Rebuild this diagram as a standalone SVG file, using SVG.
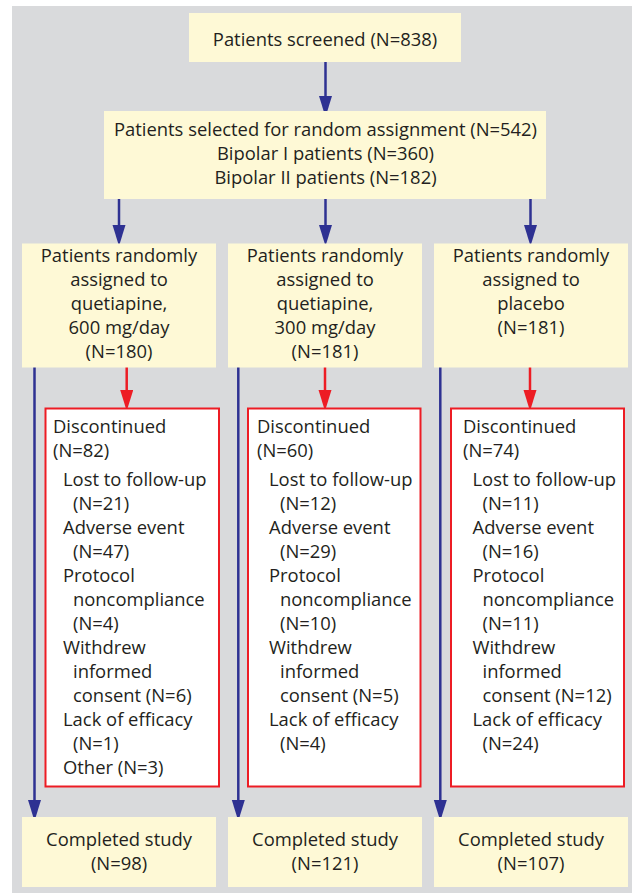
<svg xmlns="http://www.w3.org/2000/svg" width="632" height="894" viewBox="0 0 632 894">
  <style>
    text { font-family: "Open Sans", "Liberation Sans", sans-serif; font-size: 18.4px; fill: #231f20; }
    .c { text-anchor: middle; }
    .box { fill: #fef9d6; }
    .drop { fill: #ffffff; stroke: #ed1c24; stroke-width: 2; }
    .blue { stroke: #2e3192; stroke-width: 2.5; fill: none; marker-end: url(#headBlue); }
    .red { stroke: #ed1c24; stroke-width: 2.5; fill: none; marker-end: url(#headRed); }
  </style>
  <defs>
    <marker id="headBlue" markerUnits="userSpaceOnUse" markerWidth="22" markerHeight="14" refX="1" refY="6.5" orient="auto">
      <path d="M0,0 L21,6.5 L0,13 Z" fill="#2e3192"/>
    </marker>
    <marker id="headRed" markerUnits="userSpaceOnUse" markerWidth="22" markerHeight="14" refX="1" refY="6.5" orient="auto">
      <path d="M0,0 L21,6.5 L0,13 Z" fill="#ed1c24"/>
    </marker>
  </defs>

  <!-- panel background -->
  <rect x="12" y="6" width="620" height="887" fill="#d9dadc"/>

  <!-- connectors -->
  <g id="connectors">
    <line class="blue" x1="325.5" y1="62" x2="325.5" y2="97"/>
    <line class="blue" x1="119" y1="199" x2="119" y2="226"/>
    <line class="blue" x1="325.5" y1="199" x2="325.5" y2="226"/>
    <line class="blue" x1="530.5" y1="199" x2="530.5" y2="226"/>
    <line class="red" x1="126.7" y1="367" x2="126.7" y2="391"/>
    <line class="red" x1="325" y1="367" x2="325" y2="391"/>
    <line class="red" x1="530" y1="367" x2="530" y2="391"/>
    <line class="blue" x1="34.5" y1="367" x2="34.5" y2="801"/>
    <line class="blue" x1="238.3" y1="367" x2="238.3" y2="801"/>
    <line class="blue" x1="440.3" y1="367" x2="440.3" y2="801"/>
  </g>

  <g id="screened">
    <rect class="box" x="189" y="13" width="272" height="49"/>
    <text class="c" x="325" y="46">Patients screened (N=838)</text>
  </g>

  <g id="randomized">
    <rect class="box" x="104" y="111" width="442" height="88"/>
    <text class="c" x="325.5" y="136">Patients selected for random assignment (N=542)</text>
    <text class="c" x="325.5" y="160">Bipolar I patients (N=360)</text>
    <text class="c" x="325.5" y="184">Bipolar II patients (N=182)</text>
  </g>

  <g id="arm600">
    <rect class="box" x="22" y="243.5" width="194" height="124"/>
    <text class="c" x="119" y="262">Patients randomly</text>
    <text class="c" x="119" y="286">assigned to</text>
    <text class="c" x="119" y="310">quetiapine,</text>
    <text class="c" x="119" y="334">600 mg/day</text>
    <text class="c" x="119" y="358">(N=180)</text>
  </g>

  <g id="arm300">
    <rect class="box" x="228" y="243.5" width="194" height="124"/>
    <text class="c" x="325" y="262">Patients randomly</text>
    <text class="c" x="325" y="286">assigned to</text>
    <text class="c" x="325" y="310">quetiapine,</text>
    <text class="c" x="325" y="334">300 mg/day</text>
    <text class="c" x="325" y="358">(N=181)</text>
  </g>

  <g id="armPlacebo">
    <rect class="box" x="434" y="243.5" width="194" height="124"/>
    <text class="c" x="531" y="262">Patients randomly</text>
    <text class="c" x="531" y="286">assigned to</text>
    <text class="c" x="531" y="310">placebo</text>
    <text class="c" x="531" y="334">(N=181)</text>
  </g>

  <g id="disc600">
    <rect class="drop" x="45.5" y="408.5" width="173.5" height="378"/>
    <text x="53" y="433">Discontinued</text>
    <text x="53" y="457">(N=82)</text>
    <text x="63" y="486">Lost to follow-up</text>
    <text x="73" y="510">(N=21)</text>
    <text x="63" y="534">Adverse event</text>
    <text x="73" y="558">(N=47)</text>
    <text x="63" y="582">Protocol</text>
    <text x="73" y="606">noncompliance</text>
    <text x="73" y="630">(N=4)</text>
    <text x="63" y="654">Withdrew</text>
    <text x="73" y="678">informed</text>
    <text x="73" y="702">consent (N=6)</text>
    <text x="63" y="726">Lack of efficacy</text>
    <text x="73" y="750">(N=1)</text>
    <text x="63" y="774">Other (N=3)</text>
  </g>

  <g id="disc300">
    <rect class="drop" x="248" y="408.5" width="172.5" height="378"/>
    <text x="257" y="433">Discontinued</text>
    <text x="257" y="457">(N=60)</text>
    <text x="269" y="486">Lost to follow-up</text>
    <text x="280" y="510">(N=12)</text>
    <text x="269" y="534">Adverse event</text>
    <text x="280" y="558">(N=29)</text>
    <text x="269" y="582">Protocol</text>
    <text x="280" y="606">noncompliance</text>
    <text x="280" y="630">(N=10)</text>
    <text x="269" y="654">Withdrew</text>
    <text x="280" y="678">informed</text>
    <text x="280" y="702">consent (N=5)</text>
    <text x="269" y="726">Lack of efficacy</text>
    <text x="280" y="750">(N=4)</text>
  </g>

  <g id="discPlacebo">
    <rect class="drop" x="451" y="408.5" width="173" height="378"/>
    <text x="463" y="433">Discontinued</text>
    <text x="463" y="457">(N=74)</text>
    <text x="472.5" y="486">Lost to follow-up</text>
    <text x="482.5" y="510">(N=11)</text>
    <text x="472.5" y="534">Adverse event</text>
    <text x="482.5" y="558">(N=16)</text>
    <text x="472.5" y="582">Protocol</text>
    <text x="482.5" y="606">noncompliance</text>
    <text x="482.5" y="630">(N=11)</text>
    <text x="472.5" y="654">Withdrew</text>
    <text x="482.5" y="678">informed</text>
    <text x="482.5" y="702">consent (N=12)</text>
    <text x="472.5" y="726">Lack of efficacy</text>
    <text x="482.5" y="750">(N=24)</text>
  </g>

  <g id="done600">
    <rect class="box" x="22" y="817" width="194" height="70"/>
    <text class="c" x="119" y="846">Completed study</text>
    <text class="c" x="119" y="870">(N=98)</text>
  </g>

  <g id="done300">
    <rect class="box" x="228" y="817" width="194" height="70"/>
    <text class="c" x="325" y="846">Completed study</text>
    <text class="c" x="325" y="870">(N=121)</text>
  </g>

  <g id="donePlacebo">
    <rect class="box" x="434" y="817" width="194" height="70"/>
    <text class="c" x="531" y="846">Completed study</text>
    <text class="c" x="531" y="870">(N=107)</text>
  </g>
</svg>
